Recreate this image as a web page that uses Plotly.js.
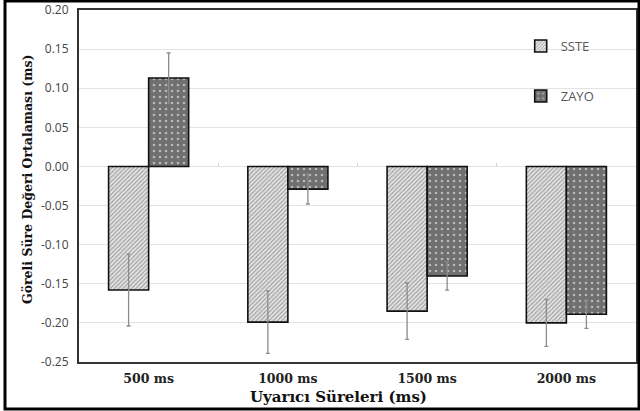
<!DOCTYPE html>
<html>
<head>
<meta charset="utf-8">
<script src="https://cdn.plot.ly/plotly-3.0.1.min.js"></script>
<style>
html,body{margin:0;padding:0;background:#fff;}
#chart{width:640px;height:411px;}
</style>
</head>
<body>
<div id="chart"></div>
<script>
const categories = ["500 ms", "1000 ms", "1500 ms", "2000 ms"];
const ssteValues = [-0.158, -0.199, -0.185, -0.200];
const ssteErrors = [0.046, 0.040, 0.036, 0.030];
const zayoValues = [0.113, -0.029, -0.140, -0.189];
const zayoErrors = [0.032, 0.019, 0.018, 0.018];
const yTickVals = [-0.25, -0.20, -0.15, -0.10, -0.05, 0.00, 0.05, 0.10, 0.15, 0.20];
const yTickText = ["-0.25", "-0.20", "-0.15", "-0.10", "-0.05", "0.00", "0.05", "0.10", "0.15", "0.20"];
const xTitle = "Uyarıcı Süreleri (ms)";
const yTitle = "Göreli Süre Değeri Ortalaması (ms)";

const traces = [
  {
    type: "bar", name: "SSTE", x: categories, y: ssteValues, legendgroup: "a",
    marker: {
      color: "#dcdcdc",
      line: {color: "#111", width: 1.6},
      pattern: {shape: "/", bgcolor: "#e4e4e4", fgcolor: "#9a9a9a", size: 3, solidity: 0.35}
    },
    error_y: {type: "data", array: ssteErrors, visible: true, color: "#8c8c8c", thickness: 1.3, width: 2}
  },
  {
    type: "bar", name: "ZAYO", x: categories, y: zayoValues, legendgroup: "b",
    marker: {
      color: "#6f6f6f",
      line: {color: "#111", width: 1.6},
      pattern: {shape: ".", bgcolor: "#6f6f6f", fgcolor: "#b8b8b8", size: 6, solidity: 0.15}
    },
    error_y: {type: "data", array: zayoErrors, visible: true, color: "#8c8c8c", thickness: 1.3, width: 2}
  },
  {
    type: "scatter", mode: "none", x: categories, y: [0, 0, 0, 0],
    xaxis: "x2", yaxis: "y", showlegend: false, hoverinfo: "skip"
  }
];

const layout = {
  width: 640, height: 411,
  margin: {l: 79, r: 4, t: 10, b: 49},
  paper_bgcolor: "#fff", plot_bgcolor: "#fff",
  barmode: "group", bargap: 0.425, bargroupgap: 0,
  showlegend: true,
  legend: {
    x: 0.793, y: 0.94, xanchor: "left", yanchor: "top",
    font: {family: "Open Sans, sans-serif", size: 13, color: "#595959"},
    bgcolor: "rgba(0,0,0,0)", traceorder: "grouped", tracegroupgap: 30,
    itemwidth: 30
  },
  xaxis: {
    type: "category",
    showgrid: false, zeroline: false,
    showline: true, linecolor: "#333", linewidth: 2, mirror: true,
    ticks: "", ticklabelstandoff: 4,
    tickfont: {family: "DejaVu Serif, serif", size: 12.5, color: "#222", weight: "bold"},
    automargin: false
  },
  xaxis2: {
    type: "category", overlaying: "x", anchor: "free", position: 0.25 / 0.45,
    range: [-0.5, 3.5],
    side: "bottom", showgrid: false, zeroline: false, showline: false,
    showticklabels: false, ticks: "inside", tickson: "boundaries", ticklen: 3,
    tickcolor: "#cfcfcf", tickwidth: 1, automargin: false
  },
  yaxis: {
    range: [-0.25, 0.20],
    tickvals: yTickVals, ticktext: yTickText,
    showgrid: true, gridcolor: "#e3e3e3", gridwidth: 1,
    zeroline: true, zerolinecolor: "#e3e3e3", zerolinewidth: 1,
    showline: true, linecolor: "#333", linewidth: 2, mirror: true,
    ticks: "", ticklen: 0, ticklabelstandoff: 6,
    tickfont: {family: "Open Sans, sans-serif", size: 12, color: "#444"},
    automargin: false
  },
  annotations: [
    {text: "<b>" + xTitle + "</b>", xref: "paper", yref: "paper",
     x: (338.5 - 79) / 557, y: (362 - 397) / 352, xanchor: "center", yanchor: "middle",
     showarrow: false, font: {family: "DejaVu Serif, serif", size: 15, color: "#111"}},
    {text: "<b>" + yTitle + "</b>", xref: "paper", yref: "paper", textangle: -90,
     x: (27 - 79) / 557, y: (362 - 180) / 352, xanchor: "center", yanchor: "middle",
     showarrow: false, font: {family: "DejaVu Serif, serif", size: 12.5, color: "#111"}}
  ],
  shapes: [
    {type: "rect", xref: "paper", yref: "paper",
     x0: (5 - 79) / 557, x1: (639 - 79) / 557, y0: (362 - 409) / 352, y1: (362 - 1) / 352,
     line: {color: "#000", width: 3}, fillcolor: "rgba(0,0,0,0)", layer: "above"}
  ]
};

Plotly.newPlot("chart", traces, layout, {displayModeBar: false, staticPlot: true});
</script>
</body>
</html>
